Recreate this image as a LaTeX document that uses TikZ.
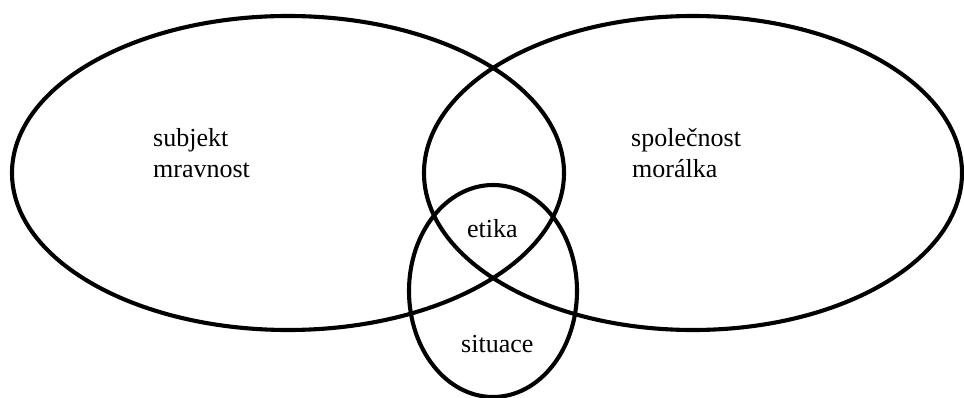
\documentclass[tikz,border=0pt]{standalone}
\usepackage{fontspec}
\setmainfont{Liberation Serif}
\begin{document}
\begin{tikzpicture}[x=1pt,y=-1pt,
  ring/.style={draw=black,line width=4.1pt},
  lbl/.style={anchor=base west,inner sep=0pt,font=\fontsize{26}{30}\selectfont}]
\useasboundingbox (0,0) rectangle (964,398);
\draw[ring] (288,173) ellipse [x radius=276pt, y radius=157pt];
\draw[ring] (693,173) ellipse [x radius=269pt, y radius=157pt];
\draw[ring] (493,291) ellipse [x radius=84pt, y radius=106pt];
\node[lbl] (subj) at (153,147) {subjekt};
\node[lbl] (mrav) at (153,178) {mravnost};
\node[lbl] (spol) at (631,147) {společnost};
\node[lbl] (mor) at (632,178) {morálka};
\node[lbl] (etika) at (467,238) {etika};
\node[lbl] (sit) at (461,352) {situace};
\end{tikzpicture}
\end{document}
